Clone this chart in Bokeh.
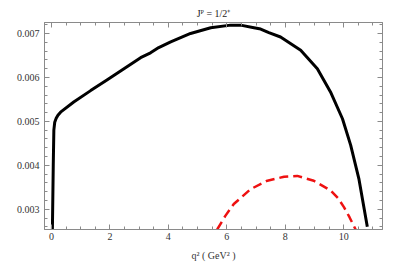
from bokeh.plotting import figure
from bokeh.models import (Range1d, SingleIntervalTicker, LinearAxis, NumeralTickFormatter,
                          Title, CustomJSTickFormatter)
from bokeh.embed import file_html
from bokeh.resources import INLINE

# black curve (solid)
q2_black = [0.03, 0.06, 0.08, 0.11, 0.16, 0.22, 0.31, 0.76, 1.34, 1.91, 2.48, 3.05,
            3.39, 3.67, 4.08, 4.76, 5.45, 6.13, 6.47, 6.93, 7.16, 7.44, 7.84, 8.53,
            9.10, 9.55, 9.96, 10.24, 10.52, 10.81]
val_black = [0.00254, 0.00400, 0.00480, 0.00498, 0.00507, 0.00514, 0.00521, 0.00544,
             0.00570, 0.00595, 0.00620, 0.00645, 0.00656, 0.00668, 0.00681, 0.00700,
             0.00713, 0.00719, 0.00719, 0.00713, 0.00710, 0.00702, 0.00692, 0.00662,
             0.00620, 0.00567, 0.00506, 0.00446, 0.00370, 0.00260]

# red curve (dashed)
q2_red = [5.67, 5.95, 6.24, 6.82, 7.39, 7.96, 8.41, 8.98, 9.55, 9.80, 10.01, 10.20, 10.41]
val_red = [0.00254, 0.00285, 0.00312, 0.00346, 0.00365, 0.00374, 0.00376, 0.00365,
           0.00343, 0.00326, 0.00305, 0.00282, 0.00254]

title_text = "J\u1D3E = 1/2\u207A"
x_label = "q\u00B2 ( GeV\u00B2 )"

FONT = "Liberation Serif"
AX = "#8a8a8a"

p = figure(width=399, height=266, output_backend="svg", toolbar_location=None,
           x_range=Range1d(-0.24, 11.33), y_range=Range1d(0.00254, 0.00725),
           x_axis_location=None, y_axis_location=None,
           min_border_left=44, min_border_right=17, min_border_top=22, min_border_bottom=37)

p.grid.visible = False
p.outline_line_color = AX
p.background_fill_color = "white"
p.border_fill_color = "white"

xt = SingleIntervalTicker(interval=2, num_minor_ticks=4)
yt = SingleIntervalTicker(interval=0.001, num_minor_ticks=5)
blank = CustomJSTickFormatter(code="return ''")

bottom = LinearAxis(ticker=xt, axis_label=x_label)
left = LinearAxis(ticker=yt, formatter=NumeralTickFormatter(format="0.000"))
top = LinearAxis(ticker=xt, formatter=blank)
right = LinearAxis(ticker=yt, formatter=blank)

for ax in [bottom, left, top, right]:
    ax.axis_line_color = AX
    ax.major_tick_line_color = AX
    ax.minor_tick_line_color = AX
    ax.major_tick_in = 5
    ax.major_tick_out = 0
    ax.minor_tick_in = 3
    ax.minor_tick_out = 0
    ax.major_label_text_font = FONT
    ax.major_label_text_font_size = "10px"
    ax.major_label_text_color = "#333333"
    ax.axis_label_text_font = FONT
    ax.axis_label_text_font_size = "10px"
    ax.axis_label_text_font_style = "normal"
    ax.axis_label_text_color = "#333333"

top.major_label_standoff = 0
right.major_label_standoff = 0

bottom.major_label_standoff = 3
bottom.axis_label_standoff = 7
left.major_label_standoff = 5

p.add_layout(bottom, "below")
p.add_layout(left, "left")
p.add_layout(top, "above")
p.add_layout(right, "right")

t = Title(text=title_text, align="center", text_font=FONT, text_font_size="10px",
          text_font_style="normal", text_color="#222222", standoff=8, offset=0)
p.add_layout(t, "above")

p.line(q2_black, val_black, line_color="black", line_width=3)
p.line(q2_red, val_red, line_color="#ee1111", line_width=2.5, line_dash="9 5")

open("out.html", "w").write(file_html(p, INLINE))
